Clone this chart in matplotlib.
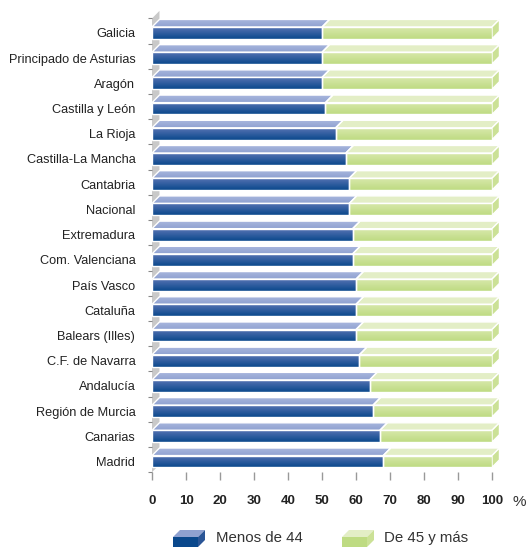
import numpy as np
import matplotlib
matplotlib.use("Agg")
import matplotlib.pyplot as plt
from matplotlib.patches import Polygon
from matplotlib.colors import to_rgb

plt.rcParams['font.family'] = ['Liberation Sans', 'DejaVu Sans']

regions = ["Galicia", "Principado de Asturias", "Aragón", "Castilla y León",
           "La Rioja", "Castilla-La Mancha", "Cantabria", "Nacional",
           "Extremadura", "Com. Valenciana", "País Vasco", "Cataluña",
           "Balears (Illes)", "C.F. de Navarra", "Andalucía",
           "Región de Murcia", "Canarias", "Madrid"]
menos_44 = [50, 50, 50, 51, 54, 57, 58, 58, 59, 59, 60, 60, 60, 61, 64, 65, 67, 68]
mas_45 = [50, 50, 50, 49, 46, 43, 42, 42, 41, 41, 40, 40, 40, 39, 36, 35, 33, 32]
xticks = [0, 10, 20, 30, 40, 50, 60, 70, 80, 90, 100]
legend_labels = ["Menos de 44", "De 45 y más"]

# colours
BLUE_TOP, BLUE_BOT = "#5673b3", "#0a488c"
BLUE_FACE = "#8fa1d0"
GREEN_TOP, GREEN_BOT = "#d8e8ab", "#bedb82"
GREEN_FACE = "#e3eec6"
GREEN_SIDE = "#cbe196"
WALL = "#c9c9c9"

# 3d look
dx, dy = 2.2, 0.30
h = 0.47

fig = plt.figure(figsize=(5.28, 5.48), dpi=100)
ax = fig.add_axes([152 / 528, 1 - 472.2 / 548, 340 / 528, (472.2 - 13) / 548])
n = len(regions)
ax.set_xlim(0, 100)
ax.set_ylim(-0.425, n - 1 + 0.79)
for s in ax.spines.values():
    s.set_visible(False)


def grad_poly(verts, c_top, c_bot, zorder=3):
    p = Polygon(verts, closed=True, facecolor="none", edgecolor="white",
                linewidth=1.0, zorder=zorder + 0.1)
    ax.add_patch(p)
    xs = [v[0] for v in verts]
    ys = [v[1] for v in verts]
    t = np.linspace(0, 1, 64)[:, None]
    a, b = np.array(to_rgb(c_top)), np.array(to_rgb(c_bot))
    img = (a * (1 - t) + b * t)[:, None, :]
    im = ax.imshow(img, extent=(min(xs), max(xs), min(ys), max(ys)),
                   origin="upper", aspect="auto", zorder=zorder,
                   interpolation="bilinear")
    im.set_clip_path(p)


def flat_poly(verts, color, zorder=3):
    ax.add_patch(Polygon(verts, closed=True, facecolor=color, edgecolor="white",
                         linewidth=1.0, zorder=zorder, clip_on=False))


# left wall
y0, y1 = -0.425, n - 1 + 0.575
flat_poly([(0, y0), (dx, y0 + dy), (dx, y1 + dy), (0, y1)], WALL, zorder=1)
ax.patches[-1].set_edgecolor("none")

for i, (name, a, b) in enumerate(zip(regions, menos_44, mas_45)):
    yc = n - 1 - i
    lo, hi = yc - h / 2, yc + h / 2
    # top faces
    grad_poly([(0, hi), (dx, hi + dy), (a + dx, hi + dy), (a, hi)],
              "#a9b7de", BLUE_FACE, zorder=2)
    flat_poly([(a, hi), (a + dx, hi + dy), (a + b + dx, hi + dy), (a + b, hi)],
              GREEN_FACE, zorder=2)
    # side face
    flat_poly([(a + b, lo), (a + b, hi), (a + b + dx, hi + dy), (a + b + dx, lo + dy)],
              GREEN_SIDE, zorder=2)
    # front faces
    grad_poly([(0, lo), (0, hi), (a, hi), (a, lo)], BLUE_TOP, BLUE_BOT, zorder=3)
    grad_poly([(a, lo), (a, hi), (a + b, hi), (a + b, lo)], GREEN_TOP, GREEN_BOT, zorder=3)

ax.set_xlim(0, 100)
ax.set_ylim(-0.425, n - 1 + 0.79)

ax.set_yticks([n - 1 - i for i in range(n)])
ax.set_yticklabels(regions, fontsize=9.2, color="#222222")
ax.tick_params(axis="y", which="major", length=0, pad=12)
ax.set_yticks([k + 0.575 for k in range(-1, n)], minor=True)
ax.tick_params(axis="y", which="minor", length=3, color="#888888", width=0.8, pad=2)

ax.set_xticks(xticks)
ax.set_xticklabels([str(v) for v in xticks], fontsize=9.5, fontweight="bold",
                   color="#222222")
ax.tick_params(axis="x", which="major", length=5.5, color="#999999", width=1.0, pad=11)
fig.text(519 / 528, 1 - 502 / 548, "%", fontsize=11, color="#333333",
         ha="center", va="center")

# legend
def legend_box(x0, c_top, c_bot, c_face, c_side):
    w, hh, d = 25, 10, 7
    yb = 547
    def P(px, py):
        return (px / 528, 1 - py / 548)
    tr = fig.transFigure
    fig.patches.append(Polygon([P(x0, yb - hh), P(x0 + d, yb - hh - d), P(x0 + w + d, yb - hh - d),
                                P(x0 + w, yb - hh)], closed=True, facecolor=c_face,
                               edgecolor="none", transform=tr))
    fig.patches.append(Polygon([P(x0 + w, yb), P(x0 + w, yb - hh), P(x0 + w + d, yb - hh - d),
                                P(x0 + w + d, yb - d)], closed=True, facecolor=c_side,
                               edgecolor="none", transform=tr))
    fig.patches.append(Polygon([P(x0, yb), P(x0, yb - hh), P(x0 + w, yb - hh), P(x0 + w, yb)],
                               closed=True, facecolor=c_bot, edgecolor="none", transform=tr))


legend_box(173, BLUE_TOP, BLUE_BOT, BLUE_FACE, "#2a5596")
legend_box(342, GREEN_TOP, GREEN_BOT, GREEN_FACE, GREEN_SIDE)
fig.text(216 / 528, 1 - 538 / 548, legend_labels[0], fontsize=10.8, color="#333333",
         ha="left", va="center")
fig.text(384 / 528, 1 - 538 / 548, legend_labels[1], fontsize=10.8, color="#333333",
         ha="left", va="center")

fig.savefig("out.png", dpi=100)
